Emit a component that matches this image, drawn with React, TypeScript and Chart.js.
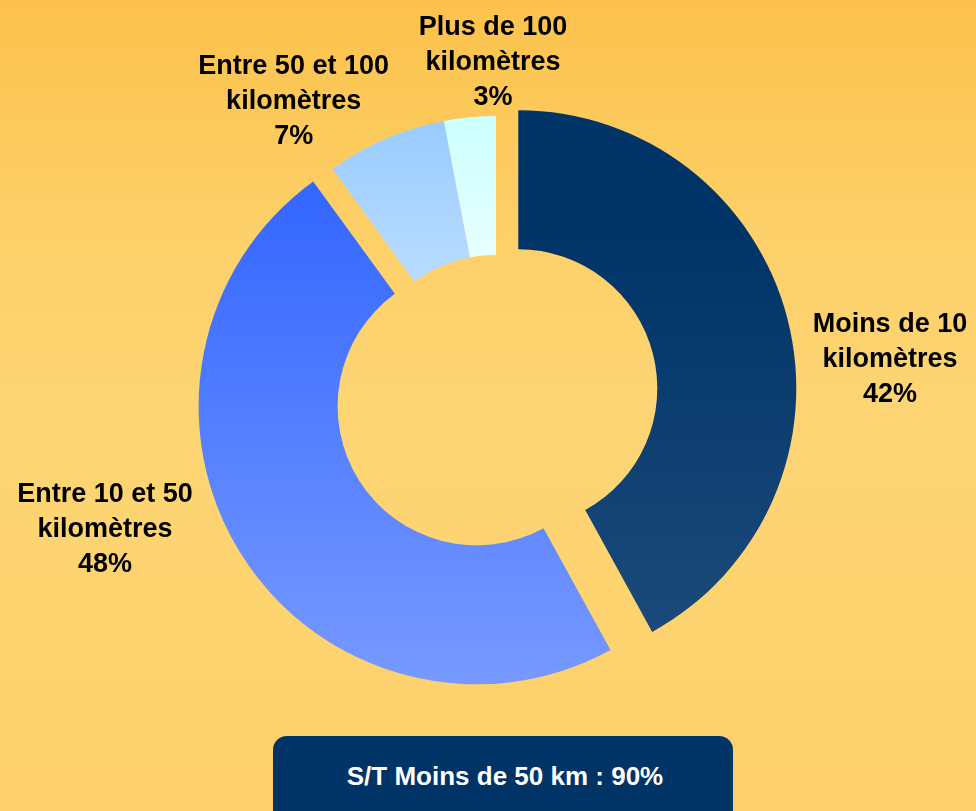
import React, { useEffect, useRef } from "react";
import { Chart, registerables } from "chart.js";

Chart.register(...registerables);

// ---- data ----
const CATEGORY_LINES: string[][] = [
  ["Moins de 10", "kilomètres"],
  ["Entre 10 et 50", "kilomètres"],
  ["Entre 50 et 100", "kilomètres"],
  ["Plus de 100", "kilomètres"],
];
const SHARES: number[] = [42, 48, 7, 3];
const SUMMARY_TEXT = "S/T Moins de 50 km : 90%";

// ---- layout / style ----
const SLICE_GRADIENTS: [number, string][][] = [
  [[0, "#003366"], [0.22, "#003366"], [1, "#1B4A7A"]],
  [[0, "#3366FF"], [1, "#7799FF"]],
  [[0, "#99CCFF"], [1, "#B9DCFF"]],
  [[0, "#CCFFFF"], [1, "#E8FFFF"]],
];
const EXPLODE = [23, 23, 0, 0];
const OUTER_R = 278;
const CUTOUT = "50%";
const INNER_R = OUTER_R * 0.5;
const LABEL_GAP = 20;
const LABEL_NUDGE: [number, number][] = [
  [83, 53],
  [-120, -29],
  [-84, -12],
  [25, -27],
];
const LABEL_FONT = 'bold 27px "Liberation Sans", Arial, sans-serif';
const LINE_STEP = 35;

function sliceAngles(i: number) {
  const total = SHARES.reduce((a, b) => a + b, 0);
  let before = 0;
  for (let k = 0; k < i; k++) before += SHARES[k];
  const start = -Math.PI / 2 + (2 * Math.PI * before) / total;
  const end = start + (2 * Math.PI * SHARES[i]) / total;
  return { start, end };
}

function sliceGradient(context: any) {
  const chart = context.chart;
  const i = context.dataIndex;
  const area = chart.chartArea;
  const stops = SLICE_GRADIENTS[i] || [[0, "#888"], [1, "#888"]];
  if (!area) return stops[0][1];
  const { start, end } = sliceAngles(i);
  const mid = (start + end) / 2;
  const cy = (area.top + area.bottom) / 2 + Math.sin(mid) * (EXPLODE[i] || 0);
  let minY = Infinity;
  let maxY = -Infinity;
  const steps = 60;
  for (let s = 0; s <= steps; s++) {
    const a = start + ((end - start) * s) / steps;
    for (const r of [INNER_R, OUTER_R]) {
      const y = cy + Math.sin(a) * r;
      if (y < minY) minY = y;
      if (y > maxY) maxY = y;
    }
  }
  const g = chart.ctx.createLinearGradient(0, minY, 0, maxY);
  stops.forEach(([o, c]) => g.addColorStop(o, c));
  return g;
}

const explodePlugin = {
  id: "explodeSlices",
  afterDatasetsUpdate(chart: any) {
    const meta = chart.getDatasetMeta(0);
    meta.data.forEach((el: any, i: number) => {
      const d = EXPLODE[i] || 0;
      const mid = (el.startAngle + el.endAngle) / 2;
      el.x += Math.cos(mid) * d;
      el.y += Math.sin(mid) * d;
    });
  },
};

const labelPlugin = {
  id: "sliceLabels",
  afterDatasetsDraw(chart: any) {
    const ctx = chart.ctx;
    const meta = chart.getDatasetMeta(0);
    ctx.save();
    ctx.font = LABEL_FONT;
    ctx.fillStyle = "#000000";
    ctx.textAlign = "center";
    ctx.textBaseline = "alphabetic";
    meta.data.forEach((el: any, i: number) => {
      const mid = (el.startAngle + el.endAngle) / 2;
      const r = el.outerRadius + LABEL_GAP;
      const px = el.x + Math.cos(mid) * r + LABEL_NUDGE[i][0];
      const py = el.y + Math.sin(mid) * r + LABEL_NUDGE[i][1];
      const lines = [...CATEGORY_LINES[i], `${SHARES[i]}%`];
      lines.forEach((t, k) => {
        ctx.fillText(t, px, py + (k - 1) * LINE_STEP);
      });
    });
    ctx.restore();
  },
};

export default function App() {
  const canvasRef = useRef<HTMLCanvasElement | null>(null);

  useEffect(() => {
    if (!canvasRef.current) return;
    const chart = new Chart(canvasRef.current, {
      type: "doughnut",
      data: {
        labels: CATEGORY_LINES.map((l) => l.join(" ")),
        datasets: [
          {
            data: SHARES,
            backgroundColor: sliceGradient as any,
            borderWidth: 0,
            hoverOffset: 0,
          },
        ],
      },
      options: {
        responsive: false,
        animation: false,
        events: [],
        radius: OUTER_R,
        cutout: CUTOUT,
        layout: { padding: { left: 16, right: 0, top: 0, bottom: 23 } },
        plugins: {
          legend: { display: false },
          tooltip: { enabled: false },
        },
      } as any,
      plugins: [explodePlugin, labelPlugin],
    });
    return () => chart.destroy();
  }, []);

  return (
    <div
      style={{
        position: "fixed",
        left: 0,
        top: 0,
        width: 976,
        height: 811,
        overflow: "hidden",
        background:
          "linear-gradient(180deg, #FCC24B 0%, #FDD06A 30%, #FDD574 50%, #FDD36F 80%, #FDD06B 100%)",
      }}
    >
      <canvas ref={canvasRef} width={976} height={811} style={{ display: "block" }} />
      <div
        style={{
          position: "absolute",
          left: 273,
          top: 736,
          width: 460,
          height: 100,
          boxSizing: "border-box",
          borderRadius: 14,
          background: "#003366",
          color: "#FFFFFF",
          fontFamily: '"Liberation Sans", Arial, sans-serif',
          fontWeight: "bold",
          fontSize: 26,
          lineHeight: "30px",
          textAlign: "center",
          paddingTop: 25,
          paddingLeft: 4,
        }}
      >
        {SUMMARY_TEXT}
      </div>
    </div>
  );
}
